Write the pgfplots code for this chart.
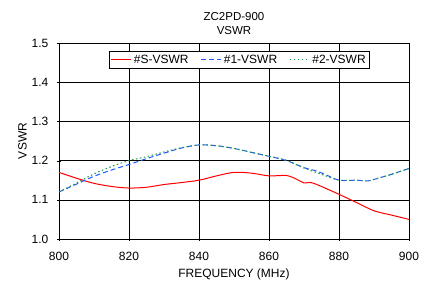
\documentclass[border=0pt]{standalone}
\usepackage{fontspec}
\setmainfont{Liberation Sans}
\usepackage{pgfplots}
\pgfplotsset{compat=1.18}
\definecolor{cblue}{RGB}{30,90,255}
\definecolor{cgreen}{RGB}{30,150,80}
\begin{document}
\begin{tikzpicture}
\useasboundingbox (-59pt,-42pt) rectangle (366pt,239pt);
\begin{axis}[
  at={(0,0)}, anchor=south west,
  scale only axis, width=350pt, height=196pt,
  xmin=800, xmax=900, ymin=1.0, ymax=1.5,
  xtick={800,820,...,900}, ytick={1.0,1.1,...,1.5},
  grid=major, major grid style={black, line width=0.6pt},
  axis line style={black, line width=0.6pt},
  tick style={black}, xtick pos=bottom, ytick pos=left,
  tick align=center,
  font=\fontsize{12}{14}\selectfont,
  /pgf/number format/assume math mode=true,
  yticklabel style={xshift=-5pt, /pgf/number format/.cd, fixed, fixed zerofill, precision=1},
  xticklabel style={yshift=-7pt, /pgf/number format/.cd, fixed, set thousands separator={}},
  xlabel={FREQUENCY (MHz)}, ylabel={VSWR},
  xlabel style={yshift=-2pt}, ylabel style={yshift=-2pt},
  title={ZC2PD-900\\VSWR}, title style={align=center, font=\fontsize{11.5}{14}\selectfont, yshift=-1pt},
  legend columns=3,
  legend style={at={(0.515,0.96)}, anchor=north, draw=black, line width=0.6pt,
    font=\fontsize{12}{14}\selectfont, inner sep=1.5pt,
    /tikz/every even column/.append style={column sep=10pt}},
  legend image code/.code={\draw[#1, line width=1.2pt] (0pt,0pt) -- (20pt,0pt);},
]
\addplot[red, line width=1pt, smooth] coordinates {
(800,1.170) (805,1.155) (810,1.142) (815,1.134) (820,1.130) (825,1.132) (830,1.139)
(835,1.144) (840,1.150) (845,1.161) (850,1.170) (855,1.168) (860,1.161) (865,1.162)
(868,1.152) (870,1.143) (872,1.144) (875,1.134) (880,1.114) (885,1.093) (890,1.072)
(895,1.061) (900,1.050)};
\addlegendentry{\#S-VSWR}
\addplot[cblue, line width=1pt, dash pattern=on 5pt off 3pt, smooth] coordinates {
(800,1.120) (805,1.140) (810,1.160) (815,1.176) (820,1.190) (825,1.205) (830,1.219)
(835,1.232) (840,1.240) (845,1.238) (850,1.231) (855,1.221) (860,1.211) (865,1.200)
(870,1.182) (873,1.175) (876,1.165) (880,1.150) (885,1.150) (888,1.148) (890,1.152)
(895,1.165) (900,1.180)};
\addlegendentry{\#1-VSWR}
\addplot[cgreen, line width=1pt, dash pattern=on 1.5pt off 2.5pt, smooth] coordinates {
(800,1.120) (805,1.143) (810,1.166) (815,1.185) (820,1.200) (825,1.210) (830,1.222)
(835,1.233) (840,1.240) (845,1.238) (850,1.231) (855,1.221) (860,1.211) (865,1.201)
(870,1.181) (875,1.165) (880,1.150) (885,1.150) (888,1.148) (890,1.152)
(895,1.165) (900,1.180)};
\addlegendentry{\#2-VSWR}
\end{axis}
\end{tikzpicture}
\end{document}
